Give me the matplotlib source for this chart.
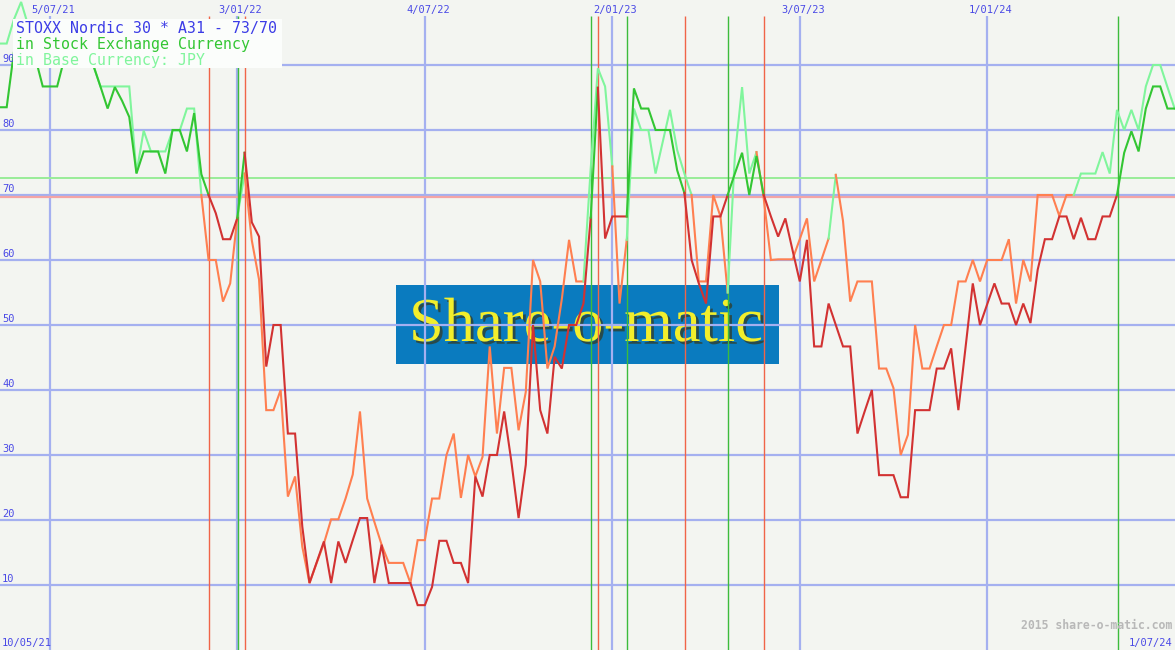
import matplotlib
matplotlib.use("Agg")
import matplotlib.pyplot as plt
import matplotlib.patheffects as pe
import pandas as pd

# weekly readings, first week 17/05/21
start_week = "2021-05-17"

# STOXX Nordic 30 indicator in stock exchange currency
exchange_ccy = [
    83.5, 83.5, 92, 94, 92, 91, 86.7, 86.7, 86.7, 91,
    93, 93, 92, 90, 86.7, 83.3, 86.6, 84.5, 82, 73.3,
    76.7, 76.7, 76.7, 73.3, 80, 80, 76.7, 82.6, 73.2, 70,
    67.2, 63.2, 63.2, 66.5, 76.5, 65.8, 63.6, 43.6, 50, 50,
    33.3, 33.3, 19, 10.3, 13.5, 16.7, 10.3, 16.7, 13.4, 16.9,
    20.3, 20.3, 10.3, 16.2, 10.3, 10.3, 10.3, 10.3, 6.9, 6.9,
    9.7, 16.8, 16.8, 13.4, 13.4, 10.3, 26.7, 23.6, 30, 30,
    36.7, 29, 20.3, 28.5, 50, 36.9, 33.3, 45.1, 43.3, 50,
    50, 53.3, 66.5, 86.5, 63.3, 66.7, 66.7, 66.7, 86.4, 83.3,
    83.3, 80, 80, 80, 73.8, 70.3, 60, 56.4, 53.3, 66.7,
    66.7, 70, 73.3, 76.5, 70, 76, 70, 66.7, 63.6, 66.4,
    61.5, 56.7, 63.1, 46.7, 46.7, 53.3, 50, 46.7, 46.7, 33.3,
    36.7, 40, 26.9, 26.9, 26.9, 23.5, 23.5, 36.9, 36.9, 36.9,
    43.3, 43.3, 46.4, 36.9, 46.6, 56.4, 50, 53.2, 56.4, 53.3,
    53.3, 50, 53.3, 50.3, 58.5, 63.2, 63.2, 66.7, 66.7, 63.2,
    66.5, 63.2, 63.2, 66.7, 66.7, 70, 76.5, 79.8, 76.7, 83.3,
    86.7, 86.7, 83.3, 83.3,
]

# same indicator in base currency (JPY)
base_ccy = [
    93.3, 93.3, 97, 99.7, 96, 94, 92, 92, 93, 94,
    95, 94, 93, 90, 86.7, 86.7, 86.7, 86.7, 86.7, 73.4,
    79.9, 76.7, 76.7, 76.7, 79.9, 79.9, 83.3, 83.3, 70, 60,
    60, 53.6, 56.4, 66.7, 73.3, 63, 57, 36.9, 36.9, 40,
    23.6, 26.7, 15.9, 10.3, 13.4, 16.4, 20.1, 20.1, 23.3, 27,
    36.7, 23.3, 19.7, 16.2, 13.4, 13.4, 13.4, 10.3, 16.9, 16.9,
    23.3, 23.3, 30, 33.3, 23.4, 30, 26.7, 29.7, 46.7, 33.3,
    43.4, 43.4, 33.8, 39.7, 60, 56.7, 43.3, 46.7, 54, 63.1,
    56.7, 56.7, 74, 89.5, 86.7, 74.4, 53.3, 63.1, 83.3, 80,
    80, 73.3, 78.2, 83.1, 76.9, 73.3, 70, 56.7, 56.7, 70,
    66.7, 55, 76, 86.6, 73.3, 76.6, 69.5, 60, 60.1, 60.1,
    60.1, 63.2, 66.4, 56.7, 60, 63.3, 73.1, 66, 53.6, 56.7,
    56.7, 56.7, 43.3, 43.3, 40.3, 30, 33.1, 50, 43.3, 43.3,
    46.7, 50, 50, 56.7, 56.7, 60, 56.7, 60, 60, 60,
    63.2, 53.3, 60, 56.7, 70, 70, 70, 66.8, 70, 70,
    73.3, 73.3, 73.3, 76.6, 73.3, 83.1, 80, 83.1, 80, 86.7,
    90, 90, 86.6, 83.3,
]

upper, lower = 73, 70
sell_signals = ["2021-12-06", "2022-01-10", "2022-12-19", "2023-03-13", "2023-05-29"]
buy_signals = ["2022-01-03", "2022-12-12", "2023-01-16", "2023-04-24", "2024-05-06"]

grid_dates = ["2021-07-05", "2022-01-03", "2022-07-04", "2023-01-02", "2023-07-03", "2024-01-01"]
grid_labels = ["5/07/21", "3/01/22", "4/07/22", "2/01/23", "3/07/23", "1/01/24"]
level_ticks = [10, 20, 30, 40, 50, 60, 70, 80, 90]

BG = "#f3f5f1"
GRID = "#a4b0f0"
LABEL = "#4a4ae6"
DARK_GREEN = "#33c633"
LIGHT_GREEN = "#80f59c"
RED = "#d23232"
ORANGE = "#ff7f50"
MONO = "DejaVu Sans Mono"


def segment_states(values):
    """True = buy state (green), switch on above upper, off below lower."""
    state = values[0] >= lower
    states = []
    for v in values[1:]:
        if state and v < lower:
            state = False
        elif not state and v >= upper:
            state = True
        states.append(state)
    return states


def plot_coloured(ax, x, values, on_colour, off_colour, z):
    states = segment_states(values)
    s = 0
    for i in range(1, len(states) + 1):
        if i == len(states) or states[i] != states[s]:
            colour = on_colour if states[s] else off_colour
            ax.plot(x[s:i + 1], values[s:i + 1], color=colour, lw=1.5,
                    zorder=z, solid_joinstyle="miter")
            s = i


dates = pd.date_range(start_week, periods=len(exchange_ccy), freq="7D")

fig = plt.figure(figsize=(11.75, 6.5), dpi=100, facecolor=BG)
ax = fig.add_axes([0, 0, 1, 1])
ax.set_facecolor(BG)
ax.set_xlim(dates[0] + pd.Timedelta(hours=12), dates[-1] + pd.Timedelta(hours=8))
ax.set_ylim(0, 100)
ax.axis("off")

# ── Logo ─────────────────────────────────────────────────────────────────
ax.add_patch(plt.Rectangle((396 / 1175, 1 - 364 / 650), 383 / 1175, 79 / 650,
                           transform=ax.transAxes, color="#0a7bbf", zorder=1, lw=0))
ax.text(586 / 1175, 1 - 341 / 650, "Share-o-matic", transform=ax.transAxes,
        ha="center", va="baseline", fontsize=45, family="Liberation Serif",
        color="#f2ee2c", zorder=1.5,
        path_effects=[pe.withSimplePatchShadow(offset=(2, -2), shadow_rgbFace="#304030", alpha=0.8)])

# ── Grid ─────────────────────────────────────────────────────────────────
for lvl in level_ticks:
    ax.axhline(lvl, color=GRID, lw=1.6, zorder=2)
    ax.text(2 / 1175, lvl + 0.5, str(lvl), transform=ax.get_yaxis_transform(),
            fontsize=7.5, family=MONO, color=LABEL, va="baseline", zorder=6)
for d, lab in zip(grid_dates, grid_labels):
    ax.vlines(pd.Timestamp(d), 0, 97.5, color=GRID, lw=1.6, zorder=2)
    ax.text(pd.Timestamp(d) + pd.Timedelta(days=3), 97.95, lab, fontsize=7.5,
            family=MONO, color=LABEL, ha="center", va="baseline", zorder=6)

ax.text(2 / 1175, 1 - 646 / 650, "10/05/21", transform=ax.transAxes, fontsize=7.5,
        family=MONO, color=LABEL, va="baseline", zorder=6)
ax.text(1172 / 1175, 1 - 646 / 650, "1/07/24", transform=ax.transAxes, fontsize=7.5,
        family=MONO, color=LABEL, ha="right", va="baseline", zorder=6)
ax.text(1172 / 1175, 1 - 629 / 650, "2015 share-o-matic.com", transform=ax.transAxes,
        fontsize=8.3, family=MONO, fontweight="bold", color="#b8b8b8",
        ha="right", va="baseline", zorder=6)

# ── Threshold levels and signals (signals fall just after the weekly close) ──
ax.axhline(72.65, color="#98ec98", lw=1.4, zorder=2.5)
ax.axhline(69.7, color="#f4a4a4", lw=1.6, zorder=2.5)
shift = pd.Timedelta(hours=14)
ax.vlines(pd.to_datetime(sell_signals) + shift, 0, 97.5, color="#f06448", lw=1.0, zorder=3)
ax.vlines(pd.to_datetime(buy_signals) + shift, 0, 97.5, color="#3cbc3c", lw=1.0, zorder=3)

# ── Series ───────────────────────────────────────────────────────────────
plot_coloured(ax, dates, base_ccy, LIGHT_GREEN, ORANGE, 4)
plot_coloured(ax, dates, exchange_ccy, DARK_GREEN, RED, 5)

# ── Legend box ───────────────────────────────────────────────────────────
ax.add_patch(plt.Rectangle((12.7 / 1175, 1 - 68.3 / 650), 269 / 1175, 49.3 / 650,
                           transform=ax.transAxes, color="#fbfdfb", lw=0, zorder=7))
legend_lines = [("STOXX Nordic 30 * A31 - 73/70", "#3c3ce6", 33.3),
                ("in Stock Exchange Currency", DARK_GREEN, 49.3),
                ("in Base Currency: JPY", LIGHT_GREEN, 65.0)]
for txt, col, base_px in legend_lines:
    ax.text(15.5 / 1175, 1 - base_px / 650, txt, transform=ax.transAxes,
            fontsize=10.7, family=MONO, color=col, va="baseline", zorder=8)

fig.savefig("out.png", dpi=100, facecolor=BG)
